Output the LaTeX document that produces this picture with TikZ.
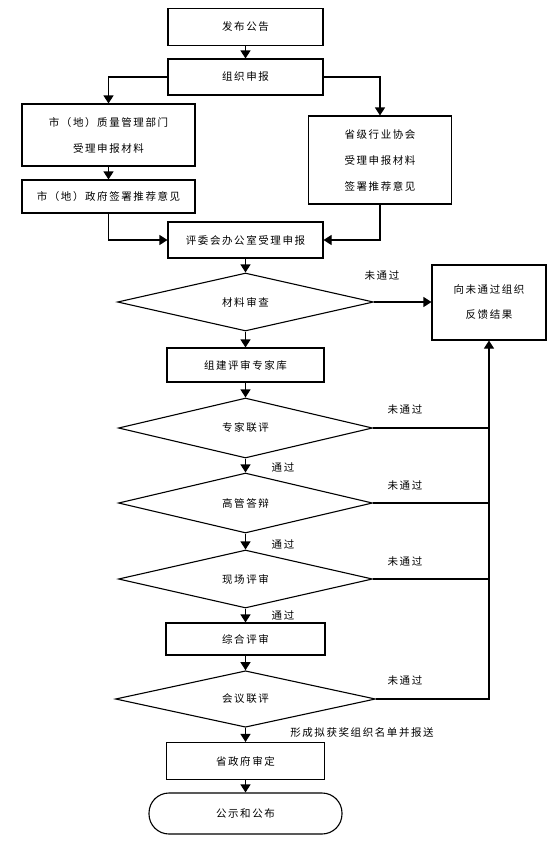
\documentclass[tikz,border=0pt]{standalone}
\usepackage{fontspec}
\newfontfamily\cjk[LetterSpace=15]{Noto Sans CJK SC}
\usetikzlibrary{shapes.geometric,arrows.meta}
\begin{document}
\begin{tikzpicture}[x=1pt,y=-1pt,line join=miter,>={Triangle[length=8pt,width=10pt]},line width=1.1pt]
	\tikzset{every node/.style={font=\cjk\fontsize{10.5}{26}\selectfont},
		box/.style={draw,rectangle,align=center,inner sep=0pt},
		decide/.style={draw,diamond,inner sep=0pt,minimum width=254pt,minimum height=58pt},
		tag/.style={inner sep=0pt}}
	\useasboundingbox (0,0) rectangle (559,844);
	% main column
	\node[box,minimum width=155pt,minimum height=37pt] (fabu) at (245.5,27) {发布公告};
	\node[box,minimum width=155pt,minimum height=36pt] (zuzhi) at (245.5,77) {组织申报};
	\node[box,minimum width=173pt,minimum height=62pt] (shizl) at (108.5,135) {市（地）质量管理部门\\受理申报材料};
	\node[box,minimum width=173pt,minimum height=33pt] (shizf) at (108.5,196.5) {市（地）政府签署推荐意见};
	\node[box,minimum width=143pt,minimum height=88pt] (xiehui) at (380,160) {省级行业协会\\受理申报材料\\签署推荐意见};
	\node[box,minimum width=155pt,minimum height=36pt] (pingwei) at (245.5,240) {评委会办公室受理申报};
	\node[decide,minimum width=256pt] (cailiao) at (245.5,302) {材料审查};
	\node[box,minimum width=114pt,minimum height=75pt] (fankui) at (489,302.5) {向未通过组织\\[-1pt]反馈结果};
	\node[box,minimum width=157pt,minimum height=34pt] (zhuanjia) at (245.5,365) {组建评审专家库};
	\node[decide,minimum height=60pt] (lianping) at (245.5,428) {专家联评};
	\node[decide,minimum height=60pt] (dabian) at (245.5,503) {高管答辩};
	\node[decide] (xianchang) at (245.5,579) {现场评审};
	\node[box,minimum width=159pt,minimum height=32pt] (zonghe) at (245.5,639) {综合评审};
	\node[decide,minimum width=260pt,minimum height=56pt] (huiyi) at (245.5,699) {会议联评};
	\node[box,minimum width=158pt,minimum height=37pt] (shending) at (245.5,761) {省政府审定};
	\node[draw,rounded corners=20pt,minimum width=193pt,minimum height=41pt,inner sep=0pt] (gongshi) at (245.5,813.5) {公示和公布};
	% labels
	\node[tag] (nf1) at (382,276) {未通过};
	\foreach \n/\y in {nf2/410,nf3/486,nf4/562,nf5/681}
		\node[tag] (\n) at (405,\y) {未通过};
	\foreach \n/\y in {ok1/467,ok2/544,ok3/615}
		\node[tag] (\n) at (283,\y) {通过};
	\node[tag] (baosong) at (362,733) {形成拟获奖组织名单并报送};
	% connectors
	\draw[->] (fabu) -- (zuzhi);
	\draw[->] (zuzhi.west) -| (shizl.north);
	\draw[->] (zuzhi.east) -| (xiehui.north);
	\draw[->] (shizl) -- (shizf);
	\draw[->] (shizf.south) |- (pingwei.west);
	\draw[->] (xiehui.south) |- (pingwei.east);
	\draw[->] (pingwei) -- (cailiao);
	\draw[->] (cailiao.east) -- (cailiao.east -| fankui.west);
	\draw[->] (cailiao) -- (zhuanjia);
	\draw[->] (zhuanjia) -- (lianping);
	\draw[->] (lianping) -- (dabian);
	\draw[->] (dabian) -- (xianchang);
	\draw[->] (xianchang) -- (zonghe);
	\draw[->] (zonghe) -- (huiyi);
	\draw[->] (huiyi) -- (shending);
	\draw[->] (shending) -- (gongshi);
	\foreach \d in {lianping,dabian,xianchang}
		\draw (\d.east) -- (\d.east -| fankui.south);
	\draw[->] (huiyi.east) -| (fankui.south);
\end{tikzpicture}
\end{document}
